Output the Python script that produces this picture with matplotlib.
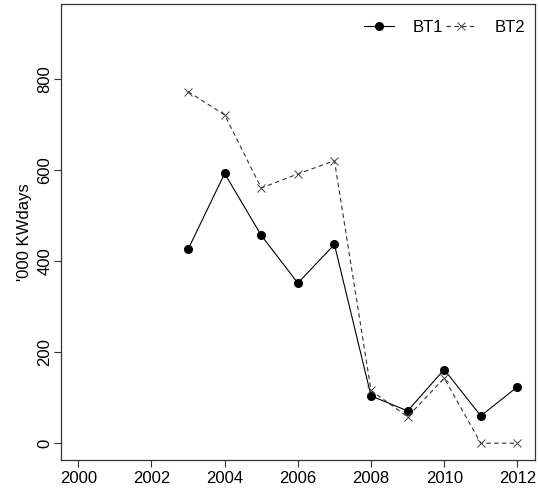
import matplotlib
matplotlib.use("Agg")
import matplotlib.pyplot as plt

plt.rcParams['font.family'] = ['Liberation Sans', 'DejaVu Sans']

years = [2003, 2004, 2005, 2006, 2007, 2008, 2009, 2010, 2011, 2012]
bt1 = [426, 593, 457, 352, 437, 104, 71, 162, 60, 124]
bt2 = [773, 722, 561, 592, 621, 116, 58, 143, 0, 0]
xticks = [2000, 2002, 2004, 2006, 2008, 2010, 2012]
yticks = [0, 200, 400, 600, 800]

fig = plt.figure(figsize=(5.38, 4.94), dpi=100)
ax = fig.add_axes([0.1128, 0.0688, 0.8816, 0.9225])

ax.plot(years, bt1, color='black', lw=0.8, marker='o', markersize=5.5,
        markerfacecolor='black', markeredgecolor='black', label='BT1')
ax.plot(years, bt2, color='#333333', lw=0.8, ls=(0, (4, 3)), marker='x', markersize=6,
        markeredgewidth=0.7, markeredgecolor='#444444', label='BT2')

ax.set_xlim(1999.52, 2012.48)
ax.set_ylim(-37, 965)
ax.set_xticks(xticks)
ax.set_yticks(yticks)
ax.set_xticklabels([str(t) for t in xticks], fontsize=12)
ax.set_yticklabels([str(t) for t in yticks], fontsize=12, rotation=90, va='center')
ax.tick_params(direction='out', length=5, width=0.8, color='#333333', pad=3)
ax.tick_params(axis='y', pad=1)
for s in ax.spines.values():
    s.set_color('#333333')
    s.set_linewidth(0.9)
ax.set_ylabel("'000 KWdays", fontsize=12, labelpad=4)

leg = ax.legend(loc='upper right', bbox_to_anchor=(1.0, 0.988), ncol=2, frameon=False,
                fontsize=12, handlelength=1.8, columnspacing=0.2, handletextpad=1.1,
                borderaxespad=0.1, borderpad=0.5)
fig.savefig('out.png', dpi=100)
